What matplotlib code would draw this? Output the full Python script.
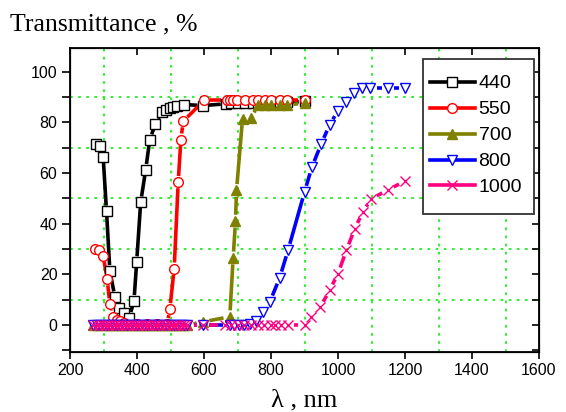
import matplotlib
matplotlib.use("Agg")
import numpy as np
import matplotlib.pyplot as plt
from matplotlib.ticker import MultipleLocator
from matplotlib.lines import Line2D
from matplotlib.patches import Rectangle
from matplotlib.collections import LineCollection

# wavelength (nm) / transmittance (%)
wl_440 = [279, 291, 299, 309, 319, 334, 347, 361, 377, 391, 399, 411, 426, 438, 455,
          474, 488, 498, 508, 518, 541, 597, 667, 680, 700, 722, 745, 761, 781, 801,
          826, 848, 900]
tr_440 = [71.5, 70.8, 66.3, 44.9, 21.4, 11.1, 6.8, 4.6, 3.0, 9.6, 24.9, 48.5, 61.3,
          73.1, 79.4, 83.9, 85.0, 85.6, 86.0, 86.4, 87.0, 86.6, 87.3, 87.5, 87.6, 87.7,
          87.7, 87.8, 87.8, 87.8, 87.9, 87.9, 88.2]

wl_550 = [275, 287, 299, 311, 319, 329, 340, 350, 362, 400, 430, 460, 490, 498, 511,
          523, 531, 538, 600, 670, 677, 687, 699, 722, 745, 761, 781, 801, 826, 848,
          900]
tr_550 = [30.2, 29.7, 27.4, 18.1, 8.2, 3.4, 2.2, 1.5, 0.9, 0.4, 0.3, 0.3, 0.4, 6.3,
          22.3, 56.4, 73.2, 80.4, 88.6, 88.6, 88.6, 88.6, 88.6, 88.6, 88.6, 88.6, 88.6,
          88.6, 88.6, 88.6, 88.6]

wl_700 = [270, 280, 290, 300, 310, 320, 330, 340, 350, 360, 370, 380, 390, 400, 410,
          420, 430, 440, 450, 460, 470, 480, 490, 500, 510, 520, 530, 540, 550, 597,
          677, 687, 694, 697, 715, 741, 761, 781, 801, 826, 848, 900]
tr_700 = [0, 0, 0, 0, 0, 0, 0, 0, 0, 0, 0, 0, 0, 0, 0, 0, 0, 0, 0, 0, 0, 0, 0, 0, 0,
          0, 0, 0, 0, 1.3, 3.3, 26.5, 41.0, 53.1, 81.4, 81.6, 86.8, 86.8, 86.8, 86.8,
          86.8, 87.6]

wl_800 = [270, 280, 290, 300, 310, 320, 330, 340, 350, 360, 370, 380, 390, 400, 410,
          420, 430, 440, 450, 460, 470, 480, 490, 500, 510, 520, 530, 540, 550, 597,
          677, 690, 705, 720, 737, 755, 776, 797, 826, 851, 900, 922, 950, 975, 1000,
          1025, 1047, 1072, 1097, 1149, 1200]
tr_800 = [0, 0, 0, 0, 0, 0, 0, 0, 0, 0, 0, 0, 0, 0, 0, 0, 0, 0, 0, 0, 0, 0, 0, 0, 0,
          0, 0, 0, 0, 0, 0, 0, 0, 0, 0.5, 1.8, 5.2, 9.3, 18.7, 29.6, 52.5, 62.3, 71.5,
          79.0, 84.6, 87.9, 91.6, 93.4, 93.4, 93.4, 93.4]

wl_1000 = [270, 280, 290, 300, 310, 320, 330, 340, 350, 360, 370, 380, 390, 400, 410,
           420, 430, 440, 450, 460, 470, 480, 490, 500, 510, 520, 530, 540, 550, 597,
           662, 680, 700, 720, 740, 760, 780, 800, 811, 831, 851, 900, 920, 947, 975,
           1000, 1025, 1050, 1074, 1099, 1149, 1199]
tr_1000 = [0, 0, 0, 0, 0, 0, 0, 0, 0, 0, 0, 0, 0, 0, 0, 0, 0, 0, 0, 0, 0, 0, 0, 0, 0,
           0, 0, 0, 0, 0, 0, 0, 0, 0, 0, 0, 0, 0, 0, 0, 0, 0, 3.3, 7.0, 13.8, 20.3, 29.5,
           38.0, 44.6, 49.8, 53.3, 56.8]

labels = ['440', '550', '700', '800', '1000']
colors = ['black', 'red', '#808000', 'blue', '#ff0080']
markers = ['s', 'o', '^', 'v', 'x']
msizes = [6.5, 7, 7.5, 7.5, 7.5]
faces = ['white', 'white', '#808000', 'white', 'none']
series = [(wl_440, tr_440), (wl_550, tr_550), (wl_700, tr_700),
          (wl_800, tr_800), (wl_1000, tr_1000)]

DPI = 100
fig = plt.figure(figsize=(5.66, 4.12), dpi=DPI)
ax = fig.add_axes([70 / 566, 60 / 412, 469 / 566, 304 / 412])
ax.set_xlim(200, 1600)
ax.set_ylim(-10.6, 109.3)


def gap_line(ax, xs, ys, gap, **kw):
    # line segments stop short of each symbol, like "gap to symbol"
    pts = ax.transData.transform(np.column_stack([xs, ys]))
    inv = ax.transData.inverted()
    segs = []
    for p0, p1 in zip(pts[:-1], pts[1:]):
        d = np.hypot(*(p1 - p0))
        if d <= 2 * gap:
            continue
        u = (p1 - p0) / d
        segs.append(inv.transform([p0 + u * gap, p1 - u * gap]))
    ax.add_collection(LineCollection(segs, **kw))


lw = 2.6
handles = []
for (xs, ys), lab, c, m, ms, fc in zip(series, labels, colors, markers, msizes, faces):
    gap_line(ax, xs, ys, ms * DPI / 72 / 2 + 1.2, colors=c, linewidths=lw,
             capstyle='butt', zorder=3)
    ax.plot(xs, ys, ls='none', marker=m, ms=ms, mfc=fc, mec=c, mew=1.0, zorder=4)
    handles.append(Line2D([], [], color=c, lw=lw, marker=m, ms=ms, mfc=fc,
                          mec=c, mew=1.0, label=lab))

ax.xaxis.set_major_locator(MultipleLocator(200))
ax.yaxis.set_major_locator(MultipleLocator(20))
ax.yaxis.set_minor_locator(MultipleLocator(10))

# dotted green grid at the in-between positions
for x in [300, 500, 700, 900, 1100, 1300, 1500]:
    ax.axvline(x, color='#22ee22', lw=1.3, ls=(0, (1.5, 3)), zorder=0)
for y in [10, 30, 50, 70, 90]:
    ax.axhline(y, color='#22ee22', lw=1.3, ls=(0, (1.5, 3)), zorder=0)

for s in ax.spines.values():
    s.set_linewidth(1.3)

ax.tick_params(axis='x', direction='out', length=5, width=1.2, labelsize=11.5, pad=3)
ax.tick_params(axis='y', which='both', direction='out', length=6, width=1.2,
               labelsize=11.5, pad=3)
for lab in ax.get_xticklabels() + ax.get_yticklabels():
    lab.set_fontfamily('Liberation Sans')

# top and right ticks point inward
axt = ax.twiny()
axt.set_xlim(ax.get_xlim())
axt.xaxis.set_major_locator(MultipleLocator(200))
axt.tick_params(direction='in', length=5, width=1.2, labeltop=False)
axr = ax.twinx()
axr.set_ylim(ax.get_ylim())
axr.yaxis.set_major_locator(MultipleLocator(10))
axr.tick_params(direction='in', length=5, width=1.2, labelright=False)

# legend box drawn separately so its padding can match the original
axr.add_patch(Rectangle((0.753, 0.454), 0.236, 0.510, transform=axr.transAxes,
                        facecolor='white', edgecolor='#333333', lw=1.3, zorder=5))
leg = axr.legend(handles=handles, loc='center left', bbox_to_anchor=(0.7676, 0.712),
                 prop={'family': 'Liberation Sans', 'size': 14},
                 handlelength=2.3, handletextpad=0.2, labelspacing=0.43,
                 borderpad=0, borderaxespad=0, frameon=False)
leg.set_zorder(6)

fig.text(10 / 566, 1 - 30 / 412, 'Transmittance , %', family='Liberation Serif',
         fontsize=18.5, va='baseline', ha='left')
fig.text(304 / 566, 1 - 406 / 412, 'λ , nm', family='Liberation Serif',
         fontsize=19, va='baseline', ha='center')

fig.savefig('out.png', dpi=DPI)
